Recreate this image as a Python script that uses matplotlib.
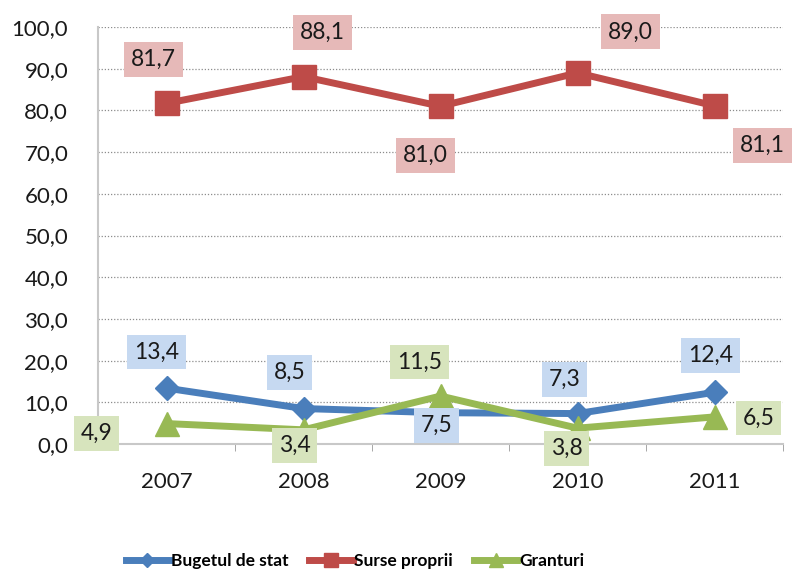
import matplotlib
matplotlib.use("Agg")
import matplotlib.pyplot as plt
from matplotlib import font_manager

# ============================================================
# DADOS
# ============================================================

YEARS = ["2007", "2008", "2009", "2010", "2011"]

BUGETUL = [13.4, 8.5, 7.5, 7.3, 12.4]
SURSE = [81.7, 88.1, 81.0, 89.0, 81.1]
GRANTURI = [4.9, 3.4, 11.5, 3.8, 6.5]

Y_TICKS = [0, 10, 20, 30, 40, 50, 60, 70, 80, 90, 100]

# ============================================================
# ESTILO
# ============================================================

names = {f.name for f in font_manager.fontManager.ttflist}
BASE_FONT = "Lato" if "Lato" in names else "DejaVu Sans"

plt.rcParams["font.family"] = [BASE_FONT, "DejaVu Sans"]

# (valores, rótulo, cor linha, cor caixa, marcador, tamanho, offsets dos rótulos em px)
SERIES = [
    (BUGETUL, "Bugetul de stat", "#4A7EBB", "#C6D9F1", "D", 12,
     [(-10, 36), (-14, 36), (-4, -13), (-13, 34), (-4, 37)]),
    (SURSE, "Surse proprii", "#BE4B48", "#E6B9B8", "s", 17,
     [(-13, 44), (19, 44), (-15, -49), (53, 41), (48, -40)]),
    (GRANTURI, "Granturi", "#98B954", "#D7E4BD", "^", 17,
     [(-70, -10), (-9, -16), (-21, 34), (-11, -20), (44, -1)]),
]


def fmt(v):
    return f"{v:.1f}".replace(".", ",")


fig = plt.figure(figsize=(7.92, 5.72), dpi=100)
ax = fig.add_axes([98 / 792, 1 - 444 / 572, (783 - 98) / 792, (444 - 27) / 572])

x = list(range(len(YEARS)))

for values, label, color, box, marker, msize, offsets in SERIES:
    ax.plot(x, values, color=color, linewidth=5, marker=marker,
            markersize=msize, markerfacecolor=color, markeredgecolor=color,
            label=label, zorder=3, clip_on=False)
    for xi, v, (dx, dy) in zip(x, values, offsets):
        ax.annotate(fmt(v), (xi, v), xytext=(dx, dy), textcoords="offset pixels",
                    ha="center", va="center", fontsize=16.5, color="#1a1a1a",
                    bbox=dict(boxstyle="square,pad=0.3", fc=box, ec="none"),
                    zorder=5, annotation_clip=False)

ax.set_xlim(-0.5, len(YEARS) - 0.5)
ax.set_ylim(0, 100)
ax.set_yticks(Y_TICKS)
ax.set_yticklabels([fmt(t) for t in Y_TICKS], fontsize=16, color="#1a1a1a")
ax.set_xticks(x)
ax.set_xticklabels(YEARS, fontsize=16, color="#1a1a1a")
ax.set_xticks([i + 0.5 for i in range(len(YEARS))], minor=True)
ax.tick_params(axis="x", which="major", length=0, pad=20)
ax.tick_params(axis="x", which="minor", length=5, color="#999999")
ax.tick_params(axis="y", length=0, pad=21.5)

for y in Y_TICKS[1:]:
    ax.axhline(y, color="#8c8c8c", linewidth=0.9, linestyle=(0, (1, 1.5)), zorder=1)

for side in ["top", "right"]:
    ax.spines[side].set_visible(False)
ax.spines["left"].set_color("#c8c8c8")
ax.spines["bottom"].set_color("#c8c8c8")
ax.spines["left"].set_linewidth(1.5)
ax.spines["bottom"].set_linewidth(1.5)

fig.legend(loc="center", bbox_to_anchor=(355 / 792, 1 - 561 / 572), ncol=3,
           frameon=False, handlelength=2.5, columnspacing=1.2, handletextpad=0.1,
           prop={"weight": "bold", "size": 12.5},
           markerscale=0.6)

fig.savefig("out.png", dpi=100)
